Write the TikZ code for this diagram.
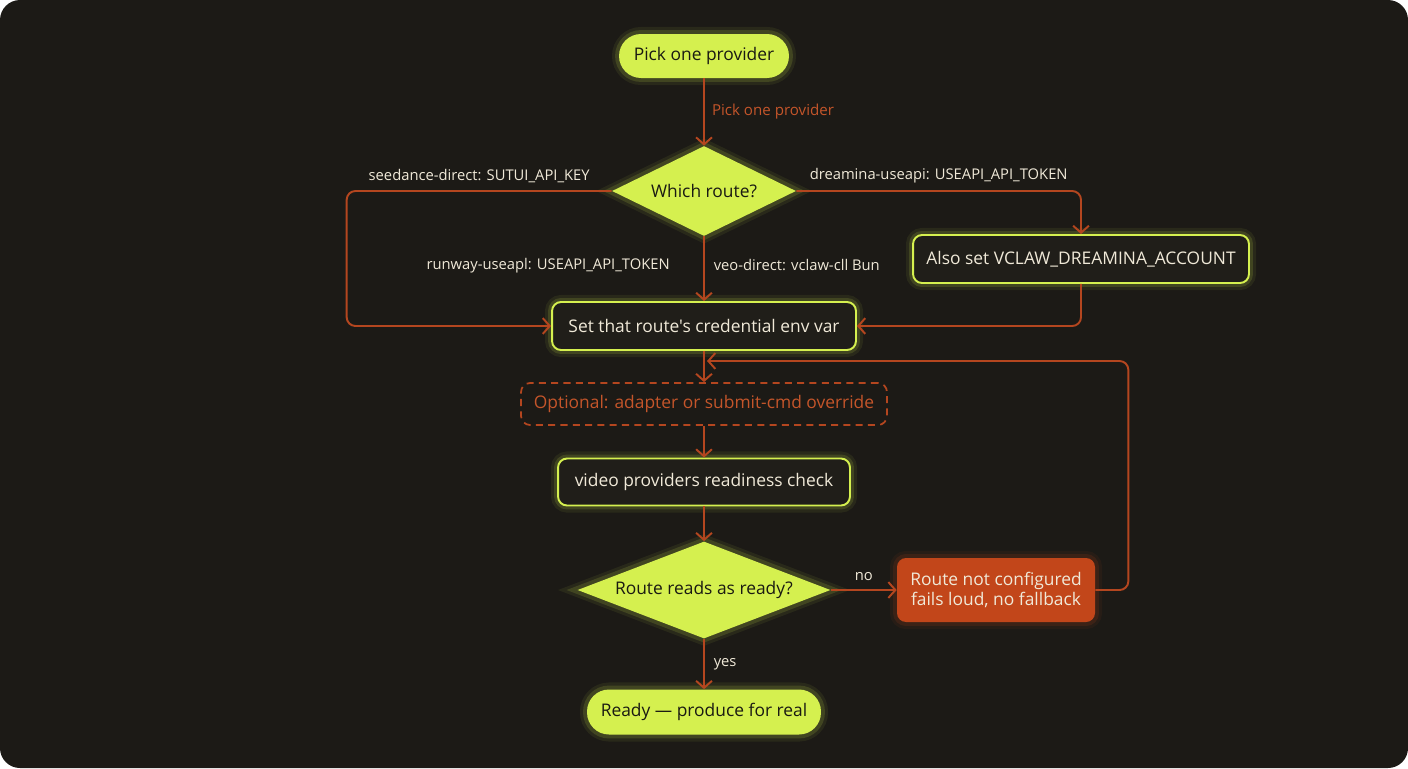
\documentclass[tikz,border=0pt]{standalone}
\usepackage{fontspec}
\setmainfont{Open Sans}[Ligatures=TeXOff]
\usetikzlibrary{shapes.geometric,arrows.meta}

\definecolor{bgdark}{HTML}{1C1A16}
\definecolor{boxdark}{HTML}{201E19}
\definecolor{lime}{HTML}{D5F04F}
\definecolor{rust}{HTML}{B4461F}
\definecolor{rusttext}{HTML}{C4552A}
\definecolor{failfill}{HTML}{C2461A}
\definecolor{cream}{HTML}{F0E9D8}
\definecolor{ink}{HTML}{1A1A12}

\tikzset{
  glow/.style={preaction={draw=#1,line width=8pt,opacity=0.07},
               preaction={draw=#1,line width=4.5pt,opacity=0.14}},
  pill/.style={fill=lime,glow=lime,text=ink,rounded corners=0.44cm,font=\fontsize{9.9}{11}\selectfont},
  choice/.style={diamond,fill=lime,glow=lime,text=ink,inner sep=0pt,aspect=2,font=\fontsize{9.9}{11}\selectfont},
  darkbox/.style={draw=lime,line width=1.1pt,fill=boxdark,glow=lime,text=cream,rounded corners=0.18cm,font=\fontsize{9.9}{11}\selectfont},
  optbox/.style={draw=rust,line width=1pt,dash pattern=on 4pt off 3pt,rounded corners=0.18cm,text=rusttext,font=\fontsize{9.9}{11}\selectfont},
  failbox/.style={fill=failfill,glow=failfill,text=cream,rounded corners=0.18cm,align=center,font=\fontsize{9.9}{11.6}\selectfont},
  flow/.style={draw=rust,line width=1.1pt,rounded corners=5pt,-{Straight Barb[length=4pt,width=9pt]}},
  flowlbl/.style={text=cream,font=\fontsize{8.4}{10}\selectfont,inner sep=2pt},
}

\begin{document}
\begin{tikzpicture}[x=0.02cm,y=-0.02cm]
% canvas
\fill[white] (0,0) rectangle (1408,768);
\fill[bgdark,rounded corners=0.4cm] (0,0) rectangle (1408,768);

% nodes
\node[pill,minimum width=3.4cm,minimum height=0.88cm] (pick) at (704,56) {Pick one provider};
\node[choice,minimum width=3.68cm,minimum height=1.8cm] (which) at (704,191) {Which route?};
\node[darkbox,minimum width=6.72cm,minimum height=0.96cm] (alsoset) at (1081,259) {Also set VCLAW\_DREAMINA\_ACCOUNT};
\node[darkbox,minimum width=6.08cm,minimum height=0.96cm] (setvar) at (704,326) {Set that route's credential env var};
\node[optbox,minimum width=7.32cm,minimum height=0.84cm] (override) at (704,404) {Optional: adapter or submit-cmd override};
\node[darkbox,minimum width=5.84cm,minimum height=0.94cm] (check) at (704,482) {video providers readiness check};
\node[choice,aspect=2.7,minimum width=5.06cm,minimum height=1.94cm] (isready) at (704,590) {Route reads as ready?};
\node[failbox,minimum width=3.96cm,minimum height=1.28cm] (fail) at (996,590) {Route not configured\\fails loud, no fallback};
\node[pill,minimum width=4.68cm,minimum height=0.9cm] (produce) at (704,712) {Ready — produce for real};
\coordinate (loopend) at (707,361);

% connectors
\draw[flow] (pick) -- node[right,flowlbl,xshift=2pt,text=rusttext,font=\fontsize{8.6}{10}\selectfont] {Pick one provider} (which);
\draw[flow] (which.west) -- node[above,flowlbl,yshift=2pt] {seedance-direct: SUTUI\_API\_KEY} ++(-265,0) |- (setvar.west);
\draw[flow] (which.east) -| node[pos=0.25,above,flowlbl,yshift=2pt] {dreamina-useapi: USEAPI\_API\_TOKEN} (alsoset.north);
\draw[flow] (which.south) -- node[pos=0.45,left,flowlbl,xshift=-17pt] {runway-useapl: USEAPI\_API\_TOKEN}
  node[pos=0.45,right,flowlbl,xshift=3pt] {veo-direct: vclaw-cll Bun} (setvar.north);
\draw[flow] (alsoset.south) |- (setvar.east);
\draw[flow] (setvar) -- (override);
\draw[flow] (override) -- (check);
\draw[flow] (check) -- (isready);
\draw[flow] (isready.east) -- node[above,flowlbl,yshift=3pt] {no} (fail.west);
\draw[flow] (isready.south) -- node[right,flowlbl,xshift=3pt] {yes} (produce.north);
\draw[flow] (fail.east) -- ++(33,0) |- (loopend);
\end{tikzpicture}
\end{document}
